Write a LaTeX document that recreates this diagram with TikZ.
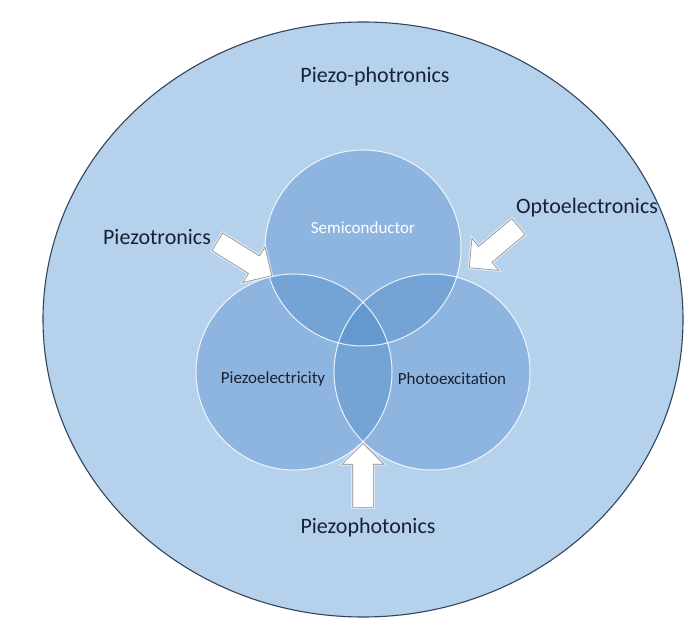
\documentclass[tikz,border=0pt]{standalone}
\usepackage{fontspec}
\setmainfont{Carlito}
\usepackage{xcolor}
\usetikzlibrary{shapes.arrows}
\definecolor{fieldblue}{RGB}{182,209,236}
\definecolor{setblue}{RGB}{72,134,200}
\definecolor{rimblue}{RGB}{52,68,92}
\definecolor{inkblue}{RGB}{22,34,52}

\begin{document}
\begin{tikzpicture}[
  x=1pt, y=1pt,
  field/.style={draw=rimblue, line width=1.1pt, fill=fieldblue, preaction={draw=white, line width=5pt, opacity=0.6}},
  set/.style={circle, minimum size=196pt, inner sep=0pt, fill=setblue, fill opacity=0.36, draw=none},
  rim/.style={circle, minimum size=196pt, inner sep=0pt, draw=white, draw opacity=0.85, line width=1pt},
  push/.style={single arrow, draw=black!45, line width=0.6pt, fill=white, minimum height=64pt, inner xsep=0pt, inner ysep=10pt, single arrow head extend=10.5pt, anchor=tip, preaction={draw=white, line width=3pt, opacity=0.5}},
  outer/.style={font=\fontsize{22}{26}\selectfont, text=inkblue},
  inner/.style={font=\fontsize{17}{20}\selectfont, text=#1},
]
\useasboundingbox[fill=white] (0,0) rectangle (692,635);

\draw[field] (363,315.5) ellipse [x radius=320, y radius=297.5];

\node[set] (semi) at (363,387) {};
\node[set] (piezo) at (294,263) {};
\node[set] (photo) at (432,263) {};
\node[rim] at (semi) {};
\node[rim] at (piezo) {};
\node[rim] at (photo) {};

\node[inner=white] (semilabel) at (363,407) {Semiconductor};
\node[inner=inkblue] (piezolabel) at (273,256) {Piezoelectricity};
\node[inner=inkblue] (photolabel) at (452,256) {Photoexcitation};

\node[push, rotate=-32] (tronics) at (272,359) {};
\node[push, rotate=-140] (opto) at (469,367) {};
\node[push, rotate=90] (phot) at (363,192) {};

\node[outer] (title) at (375,558) {Piezo-photronics};
\node[outer] (tronicslabel) at (157,398) {Piezotronics};
\node[outer] (optolabel) at (587,427) {Optoelectronics};
\node[outer] (photlabel) at (368,107) {Piezophotonics};
\end{tikzpicture}
\end{document}
